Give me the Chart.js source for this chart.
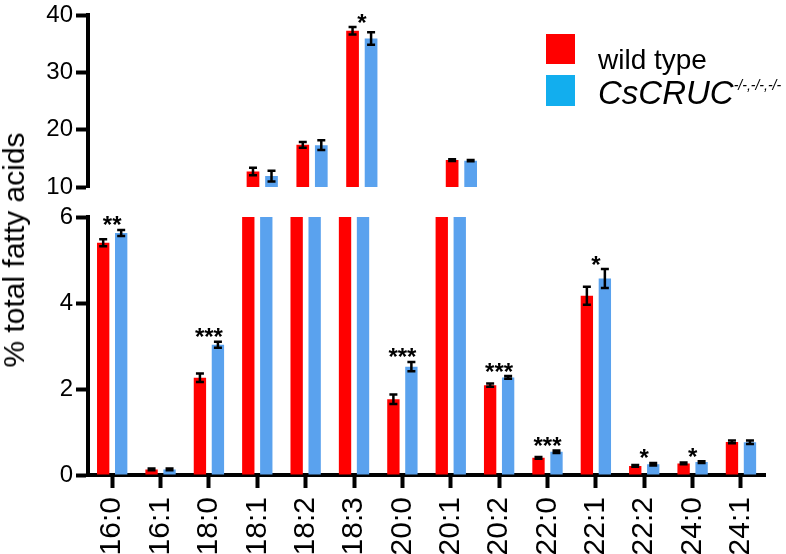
<!DOCTYPE html>
<html><head><meta charset="utf-8">
<script src="https://cdn.jsdelivr.net/npm/chart.js@4.4.1/dist/chart.umd.min.js"></script>
<style>
html,body{margin:0;padding:0;background:#fff;}
#wrap{position:relative;width:786px;height:554px;overflow:hidden;font-family:"Liberation Sans",Arial,sans-serif;background:#fff;}
canvas{position:absolute;left:0;top:0;}
#ytitle{position:absolute;left:14px;top:250px;transform:translate(-50%,-50%) rotate(-90deg);font-size:30px;line-height:30px;white-space:nowrap;color:#000;}
.sw{position:absolute;left:546px;width:29px;height:30px;}
.lt{position:absolute;left:598px;white-space:nowrap;color:#000;line-height:1;}
.lt sup{font-size:14px;vertical-align:14px;line-height:1;}
</style></head><body>
<div id="wrap">
<canvas id="lower" width="786" height="554"></canvas>
<canvas id="upper" width="786" height="554"></canvas>
<div id="ytitle">% total fatty acids</div>
<div class="sw" style="top:34px;background:#ff0000;"></div>
<div class="sw" style="top:75px;height:31px;background:#12aeee;"></div>
<div class="lt" style="top:46px;font-size:28px;">wild type</div>
<div class="lt" style="top:76px;font-size:33px;"><i>CsCRUC</i><i><sup>-/-,-/-,-/-</sup></i></div>
</div>
<script>
const categories = ['16:0','16:1','18:0','18:1','18:2','18:3','20:0','20:1','20:2','22:0','22:1','22:2','24:0','24:1'];
const wildType    = [5.40, 0.13, 2.26, 12.7, 17.35, 37.25, 1.76, 14.7, 2.09, 0.40, 4.17, 0.21, 0.27, 0.77];
const wildTypeErr = [0.08, 0.02, 0.10, 0.65, 0.5, 0.65, 0.11, 0.15, 0.04, 0.02, 0.21, 0.02, 0.02, 0.03];
const mutant      = [5.63, 0.13, 3.03, 11.9, 17.3, 35.9, 2.52, 14.6, 2.27, 0.54, 4.57, 0.25, 0.30, 0.76];
const mutantErr   = [0.07, 0.02, 0.07, 0.95, 0.85, 1.1, 0.11, 0.12, 0.03, 0.03, 0.22, 0.03, 0.02, 0.04];
const significance = ['**','','***','','','*','***','','***','***','*','*','*',''];
const lowerTicks = [0, 2, 4, 6];
const upperTicks = [10, 20, 30, 40];

const RED = '#ff0000', BLUE = '#5aa2ee';
Chart.defaults.font.family = '"Liberation Sans", Arial, sans-serif';
Chart.defaults.color = '#000';

const errPlugin = {
  id: 'errbars',
  afterDatasetsDraw(chart) {
    const ctx = chart.ctx, ys = chart.scales.y, xs = chart.scales.x;
    const vals = [wildType, mutant], errs = [wildTypeErr, mutantErr];
    ctx.save();
    ctx.strokeStyle = '#000'; ctx.lineWidth = 2.5;
    chart.data.datasets.forEach((ds, di) => {
      const meta = chart.getDatasetMeta(di);
      meta.data.forEach((bar, i) => {
        const v = vals[di][i], e = errs[di][i];
        if (v < ys.min || v > ys.max) return;
        const x = bar.x, y1 = ys.getPixelForValue(v - e), y2 = ys.getPixelForValue(v + e);
        ctx.beginPath();
        ctx.moveTo(x, y1); ctx.lineTo(x, y2);
        ctx.moveTo(x - 4, y1); ctx.lineTo(x + 4, y1);
        ctx.moveTo(x - 4, y2); ctx.lineTo(x + 4, y2);
        ctx.stroke();
      });
    });
    ctx.fillStyle = '#000';
    ctx.font = 'bold 24px "Liberation Sans", Arial, sans-serif';
    ctx.textAlign = 'center'; ctx.textBaseline = 'alphabetic';
    significance.forEach((s, i) => {
      if (!s) return;
      const top = Math.max(wildType[i] + wildTypeErr[i], mutant[i] + mutantErr[i]);
      if (top < ys.min || top > ys.max) return;
      ctx.fillText(s, xs.getPixelForValue(i), ys.getPixelForValue(top) - 10 + 13.5);
    });
    ctx.restore();
  }
};

function yScale(min, max, ticksArr) {
  return {
    min: min, max: max,
    afterBuildTicks: s => { s.ticks = ticksArr.map(v => ({value: v})); },
    afterFit: s => { s.width = 88; },
    ticks: {font: {size: 24, lineHeight: 1}, padding: 3, color: '#000'},
    grid: {drawOnChartArea: false, drawTicks: true, tickLength: 12, tickWidth: 4, tickColor: '#000', color: '#000'},
    border: {display: true, color: '#000', width: 4}
  };
}

function makeChart(id, pad, yopts, xopts, data1, data2) {
  return new Chart(document.getElementById(id), {
    type: 'bar',
    data: {
      labels: categories,
      datasets: [
        {label: 'wild type', data: data1, backgroundColor: RED, categoryPercentage: 0.744, barPercentage: 0.686},
        {label: 'CsCRUC-/-,-/-,-/-', data: data2, backgroundColor: BLUE, categoryPercentage: 0.744, barPercentage: 0.686}
      ]
    },
    options: {
      responsive: false, animation: false, devicePixelRatio: 1,
      layout: {padding: pad, autoPadding: false},
      plugins: {legend: {display: false}, tooltip: {enabled: false}},
      scales: {x: xopts, y: yopts}
    },
    plugins: [errPlugin]
  });
}

makeChart('lower', {top: 217, right: 1, left: 0, bottom: 0},
  yScale(0, 6, lowerTicks),
  {
    afterFit: s => { s.height = 79; },
    ticks: {font: {size: 30}, minRotation: 90, maxRotation: 90, padding: 9, color: '#000', autoSkip: false},
    grid: {offset: false, drawOnChartArea: false, tickLength: 13, tickWidth: 4, tickColor: '#000', color: '#000'},
    border: {display: true, color: '#000', width: 4}
  },
  wildType, mutant);

makeChart('upper', {top: 12, right: 1, left: 0, bottom: 367},
  yScale(10, 40, upperTicks),
  {display: false, grid: {offset: false}},
  wildType.map(v => v > 10 ? v : null), mutant.map(v => v > 10 ? v : null));
</script>
</body></html>
